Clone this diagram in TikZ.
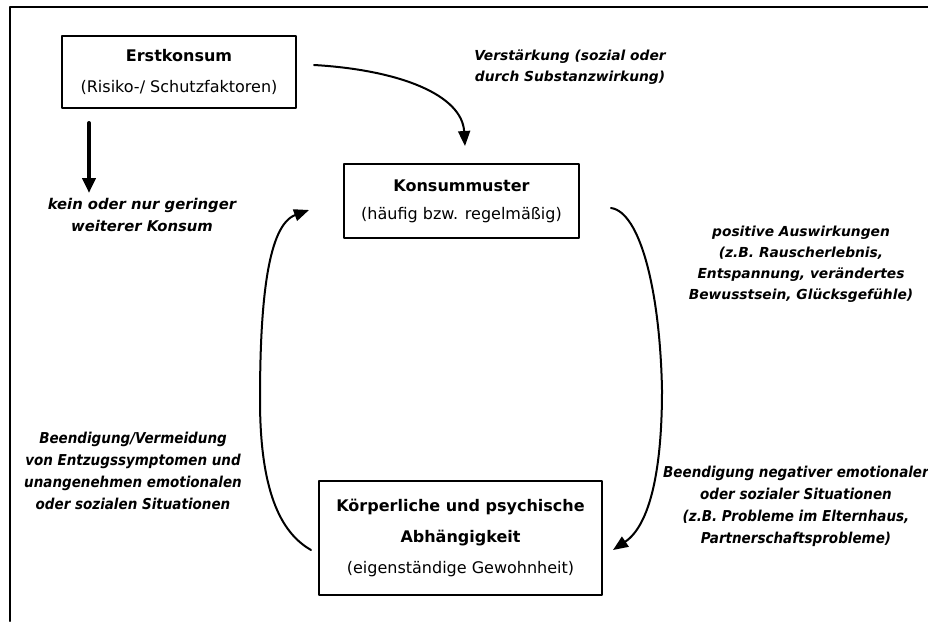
\documentclass[tikz,border=0pt]{standalone}
\usepackage{fontspec}
\setmainfont{DejaVu Sans}
\newfontfamily\condfont{DejaVu Sans Condensed}
\usetikzlibrary{arrows.meta}
\tikzset{
    box/.style = {draw, line width=2pt, align=center, inner sep=0pt, font=\fontsize{16}{31}\selectfont},
    lbl/.style = {align=center, inner sep=0pt, font=\fontsize{13.8}{21}\selectfont\bfseries\itshape},
    cond/.style = {align=center, inner sep=0pt, font=\condfont\fontsize{15}{22}\selectfont\bfseries\itshape},
    flow/.style = {line width=2pt, -{Triangle[length=15pt,width=12pt]}}
}

\begin{document}
\begin{tikzpicture}[line cap=round,line join=round,x=1pt,y=-1pt]
\useasboundingbox (0,0) rectangle (928,621);
\draw [line width=2pt] (10,621) -- (10,7) -- (928,7);
\node [box, minimum width=234pt, minimum height=72pt] (erst) at (179,72) {\textbf{Erstkonsum}\\(Risiko-/ Schutzfaktoren)};
\node [box, minimum width=235pt, minimum height=74pt, font=\fontsize{16}{28}\selectfont] (konsum) at (461.5,201) {\textbf{Konsummuster}\\(häufig bzw. regelmäßig)};
\node [box, minimum width=283pt, minimum height=114pt] (dep) at (460.5,538) {\textbf{Körperliche und psychische}\\\textbf{Abhängigkeit}\\(eigenständige Gewohnheit)};
\node [lbl, font=\fontsize{14.8}{22}\selectfont\bfseries\itshape] (kein) at (142,215) {kein oder nur geringer\\weiterer Konsum};
\node [lbl] (verst) at (570,67.5) {Verstärkung (sozial oder\\durch Substanzwirkung)};
\node [lbl] (pos) at (801,264.5) {positive Auswirkungen\\(z.B. Rauscherlebnis,\\Entspannung, verändertes\\Bewusstsein, Glücksgefühle)};
\node [cond] (entzug) at (133,470.5) {Beendigung/Vermeidung\\von Entzugssymptomen und\\unangenehmen emotionalen\\oder sozialen Situationen};
\node [cond] (neg) at (796,506) {Beendigung negativer emotionaler\\oder sozialer Situationen\\(z.B. Probleme im Elternhaus,\\Partnerschaftsprobleme)};
\draw [line width=4pt, -{Triangle[length=15pt,width=13pt]}] ([shift={(28,14)}]erst.south west) -- ++(0,70);
\draw [flow] ([shift={(17,-7)}]erst.east) .. controls (400,70) and (462,95) .. ([shift={(3.5,-17)}]konsum.north);
\draw [flow] ([shift={(31,7)}]konsum.east) .. controls (640,212) and (660,290) .. (662,390) .. controls (662,470) and (650,525) .. ([shift={(10,12)}]dep.east);
\draw [flow] ([shift={(-7,12)}]dep.west) .. controls (285,535) and (260,500) .. (260,400) .. controls (260,300) and (268,225) .. ([shift={(-34,9)}]konsum.west);
\end{tikzpicture}
\end{document}
